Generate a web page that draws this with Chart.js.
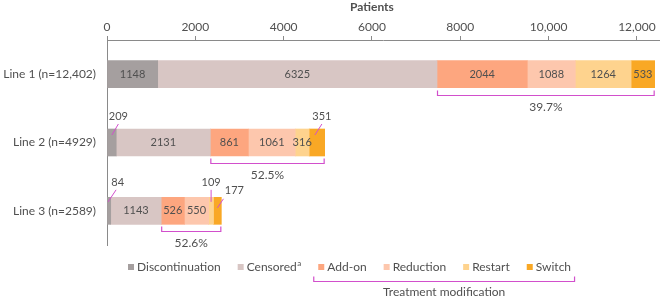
<!DOCTYPE html>
<html><head><meta charset="utf-8">
<script src="https://cdn.jsdelivr.net/npm/chart.js@4/dist/chart.umd.min.js"></script>
<style>html,body{margin:0;padding:0;background:#fff}#wrap{width:660px;height:298px;position:relative}</style>
</head><body><div id="wrap"><canvas id="c"></canvas></div>
<script>
const categories = ['Line 1 (n=12,402)', 'Line 2 (n=4929)', 'Line 3 (n=2589)'];
const seriesNames = ['Discontinuation', 'Censoredᵃ', 'Add-on', 'Reduction', 'Restart', 'Switch'];
const discontinuation = [1148, 209, 84];
const censored = [6325, 2131, 1143];
const addOn = [2044, 861, 526];
const reduction = [1088, 1061, 550];
const restart = [1264, 316, 109];
const switchTx = [533, 351, 177];
const modificationPct = ['39.7%', '52.5%', '52.6%'];
const xTicks = [0, 2000, 4000, 6000, 8000, 10000, 12000];
const xTickLabels = ['0', '2000', '4000', '6000', '8000', '10,000', '12,000'];
const axisTitle = 'Patients';
const groupTitle = 'Treatment modification';

const colors = ['#a59f9f', '#d8c6c4', '#fda67f', '#fdc7ad', '#fed38e', '#f9a825'];
const accent = '#d24fcc';
const textColor = '#505050';
const FONT = 'Lato, "Open Sans", sans-serif';

// leader-line label offsets (style): key "dataset-category"
const callouts = {
  '0-1': {x0: 0, y0: -7.5, x1: 6.5, y1: -18.5, tx: 6.5, ty: -26.5},
  '5-1': {x0: -2, y0: -7.5, x1: 5, y1: -18.5, tx: 5, ty: -26.5},
  '0-2': {x0: -1, y0: -9, x1: 7, y1: -21, tx: 8.6, ty: -28},
  '4-2': {x0: 0, y0: -9, x1: 0, y1: -21, tx: 0, ty: -28},
  '5-2': {x0: 0, y0: -3, x1: 6, y1: -12, tx: 17, ty: -20}
};

const seriesData = [discontinuation, censored, addOn, reduction, restart, switchTx];

function drawLegendLabel(ctx, label, x, y) {
  // draws a trailing modifier "ᵃ" as a small raised "a"
  if (label.endsWith('ᵃ')) {
    const base = label.slice(0, -1);
    ctx.fillText(base, x, y);
    const w = ctx.measureText(base).width;
    const f = ctx.font;
    ctx.font = '8px ' + FONT;
    ctx.fillText('a', x + w + 0.5, y - 4);
    const w2 = ctx.measureText('a').width;
    ctx.font = f;
    return w + 0.5 + w2;
  }
  ctx.fillText(label, x, y);
  return ctx.measureText(label).width;
}

const overlay = {
  id: 'overlay',
  afterDatasetsDraw(chart) {
    const ctx = chart.ctx;
    const xs = chart.scales.x;
    ctx.save();
    ctx.textAlign = 'center';
    ctx.textBaseline = 'middle';
    // segment labels
    chart.data.datasets.forEach((ds, i) => {
      const meta = chart.getDatasetMeta(i);
      meta.data.forEach((el, j) => {
        const cx = (el.x + el.base) / 2;
        const cy = el.y;
        const val = ds.data[j];
        const co = callouts[i + '-' + j];
        ctx.font = '11px ' + FONT;
        ctx.fillStyle = textColor;
        if (co) {
          ctx.strokeStyle = accent;
          ctx.lineWidth = 1;
          ctx.beginPath();
          ctx.moveTo(cx + co.x0, cy + co.y0);
          ctx.lineTo(cx + co.x1, cy + co.y1);
          ctx.stroke();
          ctx.fillText(String(val), cx + co.tx, cy + co.ty);
        } else {
          ctx.fillText(String(val), cx, cy);
        }
      });
    });
    // brackets
    const m0 = chart.getDatasetMeta(0);
    categories.forEach((c, j) => {
      const start = discontinuation[j] + censored[j];
      const end = start + addOn[j] + reduction[j] + restart[j] + switchTx[j];
      const x1 = xs.getPixelForValue(start) + 0.5;
      const x2 = xs.getPixelForValue(end) - 0.5;
      const el = m0.data[j];
      const by = Math.round(el.y + el.height / 2 + 7) + 0.5;
      ctx.strokeStyle = accent;
      ctx.lineWidth = 1.2;
      ctx.beginPath();
      ctx.moveTo(x1, by - 5); ctx.lineTo(x1, by); ctx.lineTo(x2, by); ctx.lineTo(x2, by - 5);
      ctx.stroke();
      ctx.fillStyle = textColor;
      ctx.font = '12px ' + FONT;
      ctx.fillText(modificationPct[j], (x1 + x2) / 2, by + 12);
    });
    // axis title
    ctx.font = 'bold 12px ' + FONT;
    ctx.fillStyle = textColor;
    ctx.fillText(axisTitle, (xs.getPixelForValue(xTicks[0]) + xs.getPixelForValue(xTicks[xTicks.length - 1])) / 2, 7);
    // legend
    ctx.font = '12px ' + FONT;
    ctx.textAlign = 'left';
    let x = chart.chartArea.left + 21;
    const ly = 267;
    const pos = [];
    chart.data.datasets.forEach((ds, i) => {
      ctx.fillStyle = ds.backgroundColor;
      ctx.fillRect(x, ly - 3, 6, 6);
      ctx.fillStyle = textColor;
      const w = drawLegendLabel(ctx, ds.label, x + 9, ly);
      pos.push({s: x, e: x + 9 + w});
      x += 9 + w + 17;
    });
    const gx1 = pos[2].s - 5 + 0.5, gx2 = pos[5].e + 3 + 0.5, gy = 281.5;
    ctx.strokeStyle = accent;
    ctx.lineWidth = 1.2;
    ctx.beginPath();
    ctx.moveTo(gx1, gy - 5); ctx.lineTo(gx1, gy); ctx.lineTo(gx2, gy); ctx.lineTo(gx2, gy - 5);
    ctx.stroke();
    ctx.textAlign = 'center';
    ctx.fillStyle = textColor;
    ctx.fillText(groupTitle, (gx1 + gx2) / 2, 292);
    ctx.restore();
  }
};

new Chart(document.getElementById('c'), {
  type: 'bar',
  data: {
    labels: categories,
    datasets: seriesNames.map((n, i) => ({
      label: n,
      data: seriesData[i],
      backgroundColor: colors[i],
      borderWidth: 0,
      barThickness: 27
    }))
  },
  options: {
    indexAxis: 'y',
    responsive: true,
    maintainAspectRatio: false,
    animation: false,
    layout: {padding: {top: 0, right: 1, bottom: 53, left: 0}},
    plugins: {legend: {display: false}, tooltip: {enabled: false}},
    scales: {
      x: {
        position: 'top',
        stacked: true,
        min: 0,
        max: 12500,
        afterFit(s) { s.height = 40; },
        afterBuildTicks(s) { s.ticks = xTicks.map(v => ({value: v})); },
        ticks: {
          padding: 2,
          color: textColor,
          font: {family: FONT, size: 12},
          callback: (v) => xTickLabels[xTicks.indexOf(v)]
        },
        grid: {drawOnChartArea: false, drawTicks: true, tickLength: 4, color: '#8a8a8a'},
        border: {display: true, color: '#8a8a8a', width: 1}
      },
      y: {
        stacked: true,
        afterFit(s) { s.width = 107; },
        ticks: {padding: 11, color: textColor, font: {family: FONT, size: 12}},
        grid: {drawOnChartArea: false, drawTicks: false},
        border: {display: true, color: '#8a8a8a', width: 1}
      }
    }
  },
  plugins: [overlay]
});
</script></body></html>
